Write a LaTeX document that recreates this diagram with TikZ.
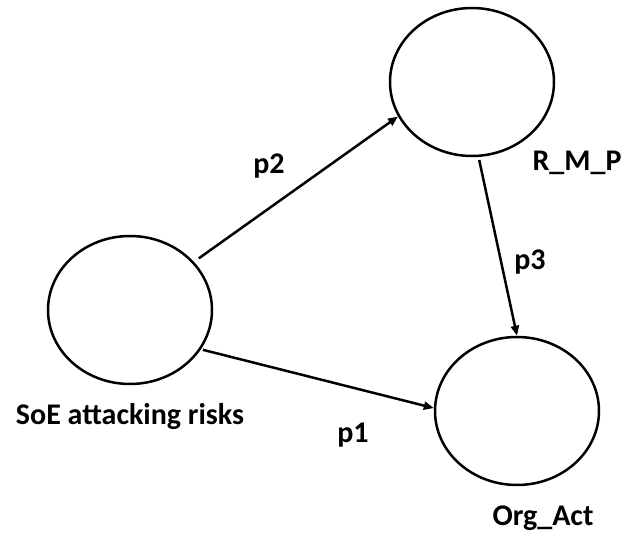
\documentclass[tikz,border=0pt]{standalone}
\usepackage{fontspec}
\setmainfont{Carlito}
\usetikzlibrary{shapes.geometric,arrows.meta}
\begin{document}
\begin{tikzpicture}[x=1pt,y=-1pt,
  var/.style={draw, ellipse, line width=2.5pt, minimum width=164pt, minimum height=148pt, inner sep=0pt},
  lbl/.style={font=\fontsize{30}{36}\selectfont\bfseries, inner sep=0pt},
  link/.style={line width=2.5pt, -{Triangle[length=10pt,width=8pt]}}]
\useasboundingbox (0,0) rectangle (625,534);
% latent variables
\node[var] (soe) at (130,310) {};
\node[var] (rmp) at (472,82) {};
\node[var] (org) at (517,411) {};
% variable names
\node[lbl] (soeName) at (130,417) {SoE attacking risks};
\node[lbl] (rmpName) at (577,163) {R\_M\_P};
\node[lbl] (orgName) at (543,518) {Org\_Act};
% paths with coefficients
\draw[link, shorten <=6pt] (soe.37.5) -- (rmp.205.6);
\draw[link, shorten <=2pt] (soe.-29.7) -- (org.178.6);
\draw[link, shorten <=3pt] (rmp.-85.5) -- (org.90);
\node[lbl] (p2) at (269,166) {p2};
\node[lbl] (p3) at (530,262) {p3};
\node[lbl] (p1) at (353,435) {p1};
\end{tikzpicture}
\end{document}
